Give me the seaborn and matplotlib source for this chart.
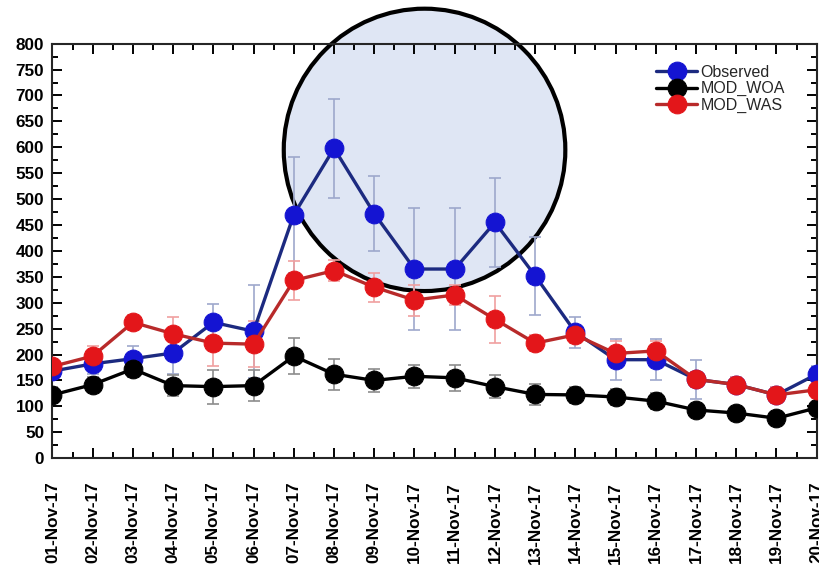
import numpy as np
import pandas as pd
import matplotlib
matplotlib.use("Agg")
import matplotlib.pyplot as plt
import seaborn as sns
import matplotlib.ticker as mticker
from matplotlib.patches import Ellipse

# =========================
#  Data
# =========================

dates = ["01-Nov-17", "02-Nov-17", "03-Nov-17", "04-Nov-17", "05-Nov-17",
         "06-Nov-17", "07-Nov-17", "08-Nov-17", "09-Nov-17", "10-Nov-17",
         "11-Nov-17", "12-Nov-17", "13-Nov-17", "14-Nov-17", "15-Nov-17",
         "16-Nov-17", "17-Nov-17", "18-Nov-17", "19-Nov-17", "20-Nov-17"]

observed = [168, 182, 192, 203, 262, 245, 470, 598, 472, 365,
            365, 455, 352, 243, 190, 190, 152, 142, 122, 162]
observed_err = [15, 20, 25, 40, 35, 90, 112, 96, 72, 118,
                118, 86, 75, 30, 40, 40, 38, 15, 15, 15]

mod_woa = [122, 142, 172, 140, 138, 140, 197, 162, 150, 158,
           155, 138, 123, 122, 118, 110, 93, 87, 77, 97]
mod_woa_err = [15, 15, 15, 20, 33, 30, 35, 30, 22, 22,
               25, 22, 20, 15, 15, 15, 10, 10, 10, 10]

mod_was = [177, 197, 262, 240, 222, 220, 343, 362, 330, 305,
           315, 268, 222, 238, 202, 207, 152, 142, 122, 132]
mod_was_err = [15, 20, 15, 32, 45, 45, 38, 20, 28, 30,
               20, 45, 15, 15, 25, 20, 15, 15, 15, 15]

series = ["Observed", "MOD_WOA", "MOD_WAS"]
line_colors = {"Observed": "#1c2a80", "MOD_WOA": "#000000", "MOD_WAS": "#b82a2a"}
marker_colors = {"Observed": "#1414d2", "MOD_WOA": "#000000", "MOD_WAS": "#e3161a"}
err_colors = {"Observed": "#9ea8cc", "MOD_WOA": "#8c8c8c", "MOD_WAS": "#f0a0a0"}

# highlight circle (centre day index / value, size in day units / value units)
circle_center = (9.25, 595)
circle_size = (7.0, 545)

day = np.arange(len(dates))
df = pd.DataFrame({
    "day": np.tile(day, 3),
    "value": observed + mod_woa + mod_was,
    "err": observed_err + mod_woa_err + mod_was_err,
    "series": np.repeat(series, len(dates)),
})

# =========================
#  Plot
# =========================

sns.set_style("ticks")
plt.rcParams["font.family"] = ["Liberation Sans", "DejaVu Sans"]

fig = plt.figure(figsize=(8.2, 5.67), dpi=100)
ax = fig.add_axes([0.064, 0.192, 0.932, 0.731])

circ = Ellipse(circle_center, circle_size[0], circle_size[1],
               facecolor="#dfe6f4", edgecolor="black", linewidth=3,
               zorder=0.5, clip_on=False)
ax.add_patch(circ)

for name in series:
    sub = df[df["series"] == name]
    ax.errorbar(sub["day"], sub["value"], yerr=sub["err"], fmt="none",
                ecolor=err_colors[name], elinewidth=1.2, capsize=4,
                capthick=1.2, zorder=2)

for i, name in enumerate(series):
    sub = df[df["series"] == name]
    sns.lineplot(data=sub, x="day", y="value", ax=ax,
                 color=line_colors[name], linewidth=2.4,
                 marker="o", markersize=13.5,
                 markerfacecolor=marker_colors[name],
                 markeredgecolor=marker_colors[name],
                 label=name, zorder=3 + i)

ax.set_xlim(0, len(dates) - 1)
ax.set_ylim(0, 800)
ax.set_xticks(day)
ax.set_xticklabels(dates, rotation=90, fontsize=12.3, fontweight="bold")
ax.xaxis.set_minor_locator(mticker.MultipleLocator(0.5))
ax.yaxis.set_major_locator(mticker.MultipleLocator(50))
ax.yaxis.set_minor_locator(mticker.MultipleLocator(25))
for lab in ax.get_yticklabels():
    lab.set_fontsize(12.3)
    lab.set_fontweight("bold")
ax.tick_params(which="both", direction="in", top=True, right=True,
               width=1.4, colors="black")
ax.tick_params(which="major", length=7)
ax.tick_params(which="minor", length=4)
ax.tick_params(axis="x", pad=17)
ax.tick_params(axis="y", pad=6)
ax.set_xlabel("")
ax.set_ylabel("")
for sp in ax.spines.values():
    sp.set_linewidth(1.5)
    sp.set_zorder(2.5)

ax.legend(loc="upper right", bbox_to_anchor=(0.975, 0.98), frameon=False,
          fontsize=11.5, handlelength=2.6, labelspacing=0.1,
          handletextpad=0.2, borderpad=0.3)

plt.savefig("out.png", dpi=100)
plt.close()
